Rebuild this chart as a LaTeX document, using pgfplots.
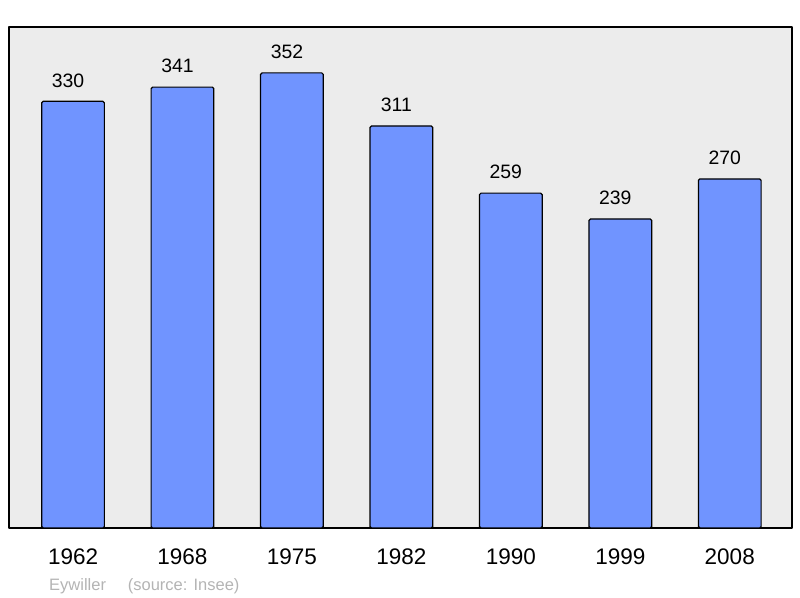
\documentclass[border=0pt]{standalone}
\usepackage{pgfplots}
\pgfplotsset{compat=1.18}
\usepackage{fontspec}
\setmainfont{Liberation Sans}
\definecolor{barblue}{RGB}{112,148,255}
\definecolor{bggray}{RGB}{236,236,236}
\definecolor{srcgray}{RGB}{180,180,180}
\begin{document}
\begin{tikzpicture}
\useasboundingbox (0,0) rectangle (800bp,598bp);
\begin{axis}[
  at={(9bp,70bp)}, anchor=south west,
  scale only axis, width=782.7bp, height=501bp,
  xmin=-0.585, xmax=6.566, ymin=0, ymax=387.5,
  axis background/.style={fill=bggray},
  axis line style={line width=2bp, line join=round},
  ytick=\empty,
  xtick={0,1,2,3,4,5,6},
  xticklabels={1962,1968,1975,1982,1990,1999,2008},
  major tick length=0pt,
  xticklabel style={anchor=base, yshift=-36bp, font=\fontsize{22.5bp}{26bp}\selectfont},
  /pgf/number format/assume math mode=true,
  ybar, bar width=62.7bp,
  nodes near coords,
  nodes near coords style={anchor=base, yshift=14.3bp, xshift=-5bp, font=\fontsize{19.4bp}{23bp}\selectfont, /pgf/number format/fixed, /pgf/number format/precision=0},
]
\addplot[fill=barblue, draw=black, line width=1.2bp, rounded corners=1.5bp] coordinates {
(0,330) (1,341) (2,352) (3,311) (4,259) (5,239) (6,270)
};
\end{axis}
\node[anchor=base west, text=srcgray, font=\fontsize{16.5bp}{19bp}\selectfont, inner sep=0pt] at (49bp,8bp) {Eywiller};
\node[anchor=base west, text=srcgray, font=\fontsize{16.5bp}{19bp}\selectfont, inner sep=0pt] at (127.7bp,8bp) {(source: Insee)};
\end{tikzpicture}
\end{document}
